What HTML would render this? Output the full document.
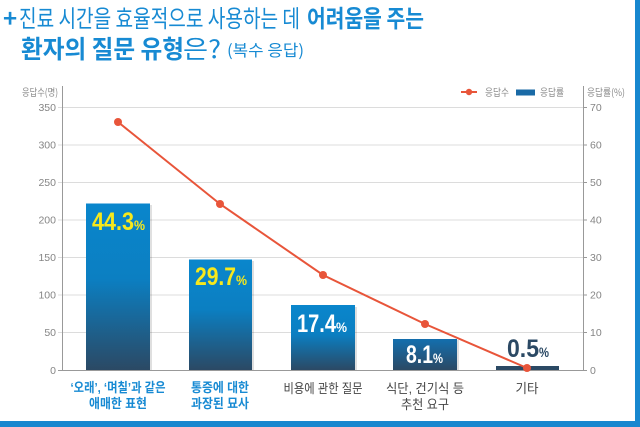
<!DOCTYPE html>
<html><head><meta charset="utf-8"><style>
html,body{margin:0;padding:0;background:#fff;}
svg{display:block;}
text{font-family:"Liberation Sans","Noto Sans CJK KR",sans-serif;}
.k{font-family:"Noto Sans CJK KR","NanumGothic",sans-serif;}
</style></head><body>
<svg width="640" height="427" viewBox="0 0 640 427" xmlns="http://www.w3.org/2000/svg">
<defs>
<linearGradient id="bg" x1="0" y1="0" x2="0" y2="1">
<stop offset="0" stop-color="#0a86cc"/>
<stop offset="0.45" stop-color="#0b7fc2"/>
<stop offset="1" stop-color="#2b4964"/>
</linearGradient>
<linearGradient id="bg4" x1="0" y1="0" x2="0" y2="1">
<stop offset="0" stop-color="#136fae"/>
<stop offset="1" stop-color="#2b4964"/>
</linearGradient>
</defs>
<rect width="640" height="427" fill="#fff"/>
<!-- frame -->
<rect x="635" y="0" width="5" height="427" fill="#1787cf"/>
<rect x="0" y="421" width="640" height="6" fill="#1787cf"/>

<!-- title -->
<text x="3" y="27" font-size="24" font-weight="bold" fill="#178ad3" class="k">+</text>
<text x="19" y="27" font-size="24" fill="#178ad3" class="k" textLength="281" lengthAdjust="spacingAndGlyphs">진료 시간을 효율적으로 사용하는 데</text>
<text x="307" y="27" font-size="24" font-weight="bold" fill="#178ad3" class="k" textLength="117" lengthAdjust="spacingAndGlyphs">어려움을 주는</text>
<text x="21" y="58" font-size="25" font-weight="bold" fill="#178ad3" class="k" textLength="163" lengthAdjust="spacingAndGlyphs">환자의 질문 유형</text>
<text x="183" y="58" font-size="25" fill="#178ad3" class="k" textLength="38" lengthAdjust="spacingAndGlyphs">은?</text>
<text x="227" y="56" font-size="16" fill="#178ad3" class="k" textLength="77" lengthAdjust="spacingAndGlyphs">(복수 응답)</text>

<!-- gridlines -->
<g stroke="#dcdcdc" stroke-width="1">
<line x1="58" y1="107.5" x2="583" y2="107.5"/>
<line x1="58" y1="145" x2="583" y2="145"/>
<line x1="58" y1="182.5" x2="583" y2="182.5"/>
<line x1="58" y1="220" x2="583" y2="220"/>
<line x1="58" y1="257.5" x2="583" y2="257.5"/>
<line x1="58" y1="295" x2="583" y2="295"/>
<line x1="58" y1="332.5" x2="583" y2="332.5"/>
</g>
<g stroke="#999" stroke-width="1">
<line x1="583" y1="107.5" x2="587" y2="107.5"/>
<line x1="583" y1="145" x2="587" y2="145"/>
<line x1="583" y1="182.5" x2="587" y2="182.5"/>
<line x1="583" y1="220" x2="587" y2="220"/>
<line x1="583" y1="257.5" x2="587" y2="257.5"/>
<line x1="583" y1="295" x2="587" y2="295"/>
<line x1="583" y1="332.5" x2="587" y2="332.5"/>
<line x1="583" y1="370.5" x2="587" y2="370.5"/>
<line x1="58" y1="370.5" x2="583" y2="370.5"/>
<line x1="62.5" y1="86" x2="62.5" y2="371"/>
<line x1="583.5" y1="86" x2="583.5" y2="371"/>
</g>

<!-- axis labels -->
<g font-size="10.5" fill="#858585" text-anchor="end">
<text x="56" y="111">350</text>
<text x="56" y="148.5">300</text>
<text x="56" y="186">250</text>
<text x="56" y="223.5">200</text>
<text x="56" y="261">150</text>
<text x="56" y="298.5">100</text>
<text x="56" y="336">50</text>
<text x="56" y="374">0</text>
</g>
<g font-size="10.5" fill="#858585">
<text x="590" y="111">70</text>
<text x="590" y="148.5">60</text>
<text x="590" y="186">50</text>
<text x="590" y="223.5">40</text>
<text x="590" y="261">30</text>
<text x="590" y="298.5">20</text>
<text x="590" y="336">10</text>
<text x="590" y="374">0</text>
</g>
<text x="22" y="96" font-size="10" fill="#888" class="k" textLength="36" lengthAdjust="spacingAndGlyphs">응답수(명)</text>
<text x="587" y="96" font-size="10" fill="#888" class="k" textLength="38" lengthAdjust="spacingAndGlyphs">응답률(%)</text>

<!-- legend -->
<line x1="461" y1="92" x2="477" y2="92" stroke="#e8553a" stroke-width="2"/>
<circle cx="469" cy="92" r="3.2" fill="#e8553a"/>
<text x="485" y="96" font-size="10" fill="#888" class="k" textLength="24" lengthAdjust="spacingAndGlyphs">응답수</text>
<rect x="516" y="89.5" width="19" height="6" fill="#1a6aa6"/>
<text x="540" y="96" font-size="10" fill="#888" class="k" textLength="24" lengthAdjust="spacingAndGlyphs">응답률</text>

<!-- bar shadows -->
<g fill="#000" opacity="0.12">
<rect x="150" y="205" width="2" height="165"/>
<rect x="252" y="261" width="2" height="109"/>
<rect x="355" y="307" width="2" height="63"/>
<rect x="457" y="340" width="2" height="30"/>
</g>
<!-- bars -->
<rect x="86" y="203.5" width="64" height="166.5" fill="url(#bg)"/>
<rect x="189" y="259.5" width="63" height="110.5" fill="url(#bg)"/>
<rect x="291" y="305" width="64" height="65" fill="url(#bg)"/>
<rect x="393" y="339" width="64" height="31" fill="url(#bg4)"/>
<rect x="496" y="366" width="63" height="4" fill="#2b4964"/>

<!-- bar values -->
<g font-weight="bold" font-size="25">
<text x="92" y="230" fill="#f7e81c"><tspan textLength="42" lengthAdjust="spacingAndGlyphs">44.3</tspan></text>
<text x="134" y="230" fill="#f7e81c" font-size="14" textLength="11" lengthAdjust="spacingAndGlyphs">%</text>
<text x="195" y="285" fill="#f7e81c"><tspan textLength="41" lengthAdjust="spacingAndGlyphs">29.7</tspan></text>
<text x="236" y="285" fill="#f7e81c" font-size="14" textLength="11" lengthAdjust="spacingAndGlyphs">%</text>
<text x="297" y="332" fill="#fff"><tspan textLength="39" lengthAdjust="spacingAndGlyphs">17.4</tspan></text>
<text x="336" y="332" fill="#fff" font-size="14" textLength="11" lengthAdjust="spacingAndGlyphs">%</text>
<text x="406" y="363" fill="#fff"><tspan textLength="27" lengthAdjust="spacingAndGlyphs">8.1</tspan></text>
<text x="433" y="363" fill="#fff" font-size="14" textLength="10" lengthAdjust="spacingAndGlyphs">%</text>
<text x="507" y="357" fill="#2b4964"><tspan textLength="32" lengthAdjust="spacingAndGlyphs">0.5</tspan></text>
<text x="539" y="357" fill="#2b4964" font-size="14" textLength="10" lengthAdjust="spacingAndGlyphs">%</text>
</g>

<!-- line series -->
<polyline points="118,122 220,204 323,275 425,324 527,368" fill="none" stroke="#e8553a" stroke-width="2"/>
<g fill="#e8553a">
<circle cx="118" cy="122" r="4"/>
<circle cx="220" cy="204" r="4"/>
<circle cx="323" cy="275" r="4"/>
<circle cx="425" cy="324" r="4"/>
<circle cx="527" cy="368" r="4"/>
</g>

<!-- x labels -->
<g font-size="13" text-anchor="middle" class="k">
<text x="118" y="392" fill="#178ad3" font-weight="bold" textLength="95" lengthAdjust="spacingAndGlyphs">‘오래’, ‘며칠’과 같은</text>
<text x="118" y="408" fill="#178ad3" font-weight="bold" textLength="58" lengthAdjust="spacingAndGlyphs">애매한 표현</text>
<text x="220" y="392" fill="#178ad3" font-weight="bold" textLength="58" lengthAdjust="spacingAndGlyphs">통증에 대한</text>
<text x="220" y="408" fill="#178ad3" font-weight="bold" textLength="58" lengthAdjust="spacingAndGlyphs">과장된 묘사</text>
<text x="323" y="393" fill="#444" textLength="79" lengthAdjust="spacingAndGlyphs">비용에 관한 질문</text>
<text x="425" y="393" fill="#444" textLength="78" lengthAdjust="spacingAndGlyphs">식단, 건기식 등</text>
<text x="425" y="409" fill="#444" textLength="48" lengthAdjust="spacingAndGlyphs">추천 요구</text>
<text x="527" y="393" fill="#444" textLength="23" lengthAdjust="spacingAndGlyphs">기타</text>
</g>
</svg>
</body></html>
